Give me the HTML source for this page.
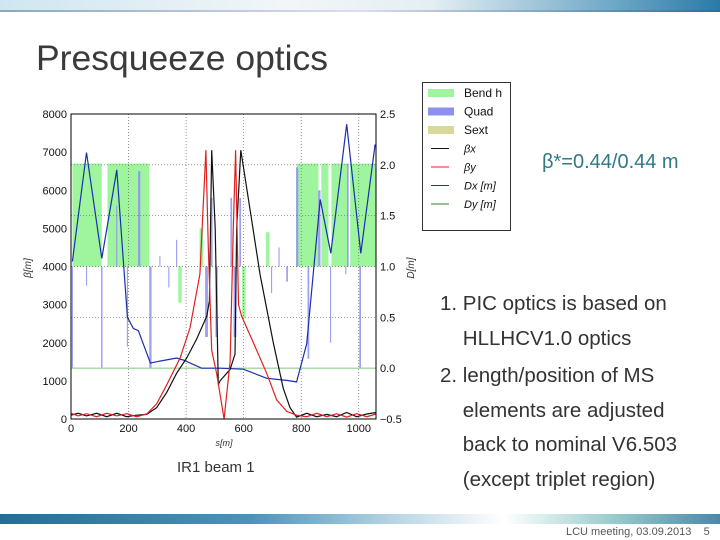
<!DOCTYPE html>
<html><head><meta charset="utf-8"><style>
body{margin:0;width:720px;height:540px;overflow:hidden;background:#fff;font-family:"Liberation Sans",sans-serif;position:relative}
.t{position:absolute;color:#333;white-space:nowrap}
</style></head><body>
<div style="position:absolute;left:0;top:0;width:720px;height:12px;background:linear-gradient(90deg,#cfe6f2,#f2f6f8 40%,#e4eef3 60%,#6fa8c8 85%,#2a7aa8)"></div>
<div style="position:absolute;left:0;top:10px;width:720px;height:2px;background:linear-gradient(90deg,#8ab,#dde 50%,#2a6f99)"></div>
<div class="t" style="left:36px;top:38px;font-size:35.5px;color:#3a3a3a">Presqueeze optics</div>
<svg id="chart" width="720" height="540" style="position:absolute;left:0;top:0" xmlns="http://www.w3.org/2000/svg"></svg>
<div class="t" style="left:542px;top:151px;font-size:20px;color:#2f7a85">β*=0.44/0.44 m</div>
<div class="t" style="left:440px;top:286px;font-size:20.5px;line-height:35px">1. PIC optics is based on<br>&nbsp;&nbsp;&nbsp;&nbsp;HLLHCV1.0 optics</div>
<div class="t" style="left:440px;top:359px;font-size:20.5px;line-height:34.5px">2. length/position of MS<br>&nbsp;&nbsp;&nbsp;&nbsp;elements are adjusted<br>&nbsp;&nbsp;&nbsp;&nbsp;back to nominal V6.503<br>&nbsp;&nbsp;&nbsp;&nbsp;(except triplet region)</div>
<div class="t" style="left:177px;top:459px;font-size:15px">IR1 beam 1</div>
<div style="position:absolute;left:0;top:514px;width:720px;height:10px;background:linear-gradient(90deg,#1f6e9c,#4a94bb 35%,#b9d6e6 55%,#fff 70%,#9cc 85%,#4a88aa)"></div>
<div class="t" style="left:566px;top:526px;font-size:11px;color:#555">LCU meeting, 03.09.2013 &nbsp;&nbsp;&nbsp;5</div>
<script>
const bendStart=[5,127,785,870,905,970];
const bendEnd=[107,272,860,895,962,1060];
const bendTop=[6700,6700,6700,6700,6700,6700];
const bendBot=[4000,4000,4000,4000,4000,4000];
const smallBendS=[378,452,600,683];
const smallBendV=[3050,5000,2650,4900];
const quadS=[5,54,107,159,196,237,276,309,340,367,471,489,506,557,570,588,697,723,751,786,825,863,902,955,962,1005];
const quadV=[1330,3500,1330,5600,1900,6500,1330,4270,3450,4700,2150,5800,2150,5800,2150,5800,3300,4500,3600,6600,1580,6000,2000,3800,6700,1330];
const quadW=[4,4,5,4,4,8,8,4,4,4,10,6,8,6,10,6,4,4,6,8,6,8,4,4,6,6];
const bxS=[0,25,54,89,124,159,194,228,263,298,333,367,402,437,472,481,489,501,512,518,553,570,576,590,622,657,703,738,761,784,819,854,889,923,958,993,1028,1060];
const bxV=[100,150,80,150,60,150,60,100,120,300,700,1200,1600,2100,2700,3100,7050,5000,900,1000,1300,1700,5000,7050,5500,3800,2000,800,300,50,150,60,120,60,170,60,130,170];
const byS=[0,25,54,89,124,159,194,228,263,298,333,379,414,448,469,477,489,506,532,553,564,572,582,593,634,680,715,750,784,819,854,889,923,958,993,1028,1060];
const byV=[150,80,140,60,150,80,140,60,130,400,900,1600,2400,3800,7050,4500,1800,1200,0,1500,5000,7050,3000,2700,2000,1200,500,200,100,60,150,60,140,50,140,60,130];
const dxS=[5,54,107,159,196,217,234,276,309,367,390,454,518,599,680,750,784,819,866,903,958,1007,1057];
const dxV=[1.05,2.12,1.08,1.95,0.5,0.39,0.37,0.05,0.07,0.1,0.08,0,0,-0.01,-0.1,-0.12,-0.135,0.24,1.66,1.13,2.4,1.13,2.2];
const xTicks=[0,200,400,600,800,1000];
const yTicks=[0,1000,2000,3000,4000,5000,6000,7000,8000];
const dTicks=[-0.5,0.0,0.5,1.0,1.5,2.0,2.5];
const X0=71,X1=376,Y0=419,Y1=114,SMAX=1060;
const sx=s=>X0+(X1-X0)*s/SMAX;
const sy=b=>Y0-(Y0-Y1)*b/8000;
const sd=d=>Y0-(Y0-Y1)*(d+0.5)/3;
const svg=document.getElementById('chart');
const NS='http://www.w3.org/2000/svg';
function mk(tag,at,parent){const e=document.createElementNS(NS,tag);for(const k in at)e.setAttribute(k,at[k]);(parent||svg).appendChild(e);return e;}
let r;
for(let i=0;i<bendStart.length;i++){r=mk('rect',{x:sx(bendStart[i]),y:sy(bendTop[i]),width:sx(bendEnd[i])-sx(bendStart[i]),height:sy(bendBot[i])-sy(bendTop[i]),fill:'#9ef59e'});

}
for(let i=0;i<smallBendS.length;i++){const v=smallBendV[i];r=mk('rect',{x:sx(smallBendS[i])-1.5,y:sy(Math.max(v,4000)),width:3.5,height:Math.abs(sy(v)-sy(4000)),fill:'#9ef59e'});

}
for(let i=0;i<quadS.length;i++){const v=quadV[i];const w=quadW[i]*(X1-X0)/SMAX;r=mk('rect',{x:sx(quadS[i])-w/2,y:sy(Math.max(v,4000)),width:w,height:Math.abs(sy(v)-sy(4000)),fill:'#8f8ff0',opacity:0.85});

}
for(const t of xTicks){if(t>0){r=mk('line',{x1:sx(t),x2:sx(t),y1:Y1,y2:Y0,stroke:'#666','stroke-dasharray':'1,2','stroke-width':0.7});

}}
for(const t of dTicks){if(t>-0.5&&t<2.5){r=mk('line',{x1:X0,x2:X1,y1:sd(t),y2:sd(t),stroke:'#666','stroke-dasharray':'1,2','stroke-width':0.7});

}}
r=mk('line',{x1:X0,x2:X1,y1:sd(0),y2:sd(0),stroke:'#8fd08f','stroke-width':1.2});


function poly(S,V,f,col,name){const p=S.map((s,i)=>sx(s).toFixed(1)+','+f(V[i]).toFixed(1)).join(' ');const e=mk('polyline',{points:p,fill:'none',stroke:col,'stroke-width':1.2});

}
poly(dxS,dxV,sd,'#1a2fb0','dx-line');
poly(bxS,bxV,sy,'#111','beta-x-line');
poly(byS,byV,sy,'#e02020','beta-y-line');
r=mk('rect',{x:X0,y:Y1,width:X1-X0,height:Y0-Y1,fill:'none',stroke:'#000','stroke-width':1});


for(const t of xTicks){r=mk('text',{x:sx(t),y:Y0+13,'font-size':11,'text-anchor':'middle',fill:'#111'});r.textContent=t;

}
for(const t of yTicks){r=mk('text',{x:X0-4,y:sy(t)+4,'font-size':11,'text-anchor':'end',fill:'#111'});r.textContent=t;

}
for(const t of dTicks){r=mk('text',{x:X1+4,y:sd(t)+4,'font-size':11,fill:'#111'});r.textContent=t===-0.5?'\u22120.5':t.toFixed(1);

}
r=mk('text',{x:224,y:446,'font-size':9,'font-style':'italic','text-anchor':'middle',fill:'#333'});r.textContent='s[m]';


r=mk('text',{x:31,y:268,'font-size':10,'font-style':'italic','text-anchor':'middle',fill:'#333',transform:'rotate(-90 31 268)'});r.textContent='β[m]';


r=mk('text',{x:414,y:268,'font-size':10,'font-style':'italic','text-anchor':'middle',fill:'#333',transform:'rotate(-90 414 268)'});r.textContent='D[m]';


const lg=mk('g',{});


mk('rect',{x:422.5,y:82.5,width:88,height:148,fill:'#fff',stroke:'#333','stroke-width':1},lg);
const legNames=['Bend h','Quad','Sext','βx','βy','Dx [m]','Dy [m]'];
const legCols=['#9ef59e','#8f8ff0','#d8d89a','#111','#e02020','#1a2fb0','#2a8a2a'];
for(let i=0;i<7;i++){const y=92+i*18.5;
if(i<3)mk('rect',{x:428,y:y-3,width:26,height:8,fill:legCols[i]},lg);else mk('line',{x1:431,x2:449,y1:y+1,y2:y+1,stroke:legCols[i],'stroke-width':1},lg);
const tx=mk('text',{x:464,y:y+5,'font-size':i<3?12:11,'font-style':i<3?'normal':'italic',fill:'#111'},lg);tx.textContent=legNames[i];

}
</script>
</body></html>
